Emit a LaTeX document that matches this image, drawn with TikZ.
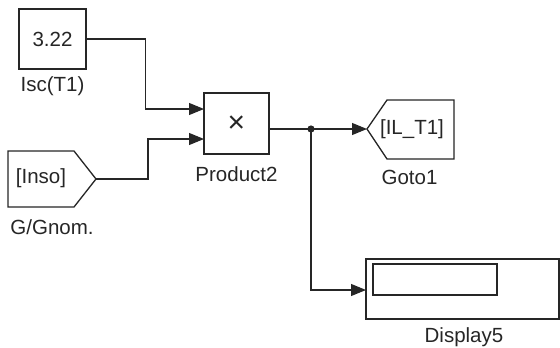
\documentclass[tikz,border=0pt]{standalone}
\usepackage{fontspec}
\setmainfont{Liberation Sans}
\usetikzlibrary{arrows.meta}
\tikzset{
  wire/.style     = {line width=1.1pt,black!85},
  sigarr/.style   = {wire,-{Triangle[length=15pt,width=12pt]}},
  blk/.style      = {draw,line width=1.3pt,black!85,fill=white,inner sep=0pt},
  blkname/.style  = {font=\fontsize{20.5}{22}\selectfont,text=black!85,inner sep=0pt},
  blktext/.style  = {font=\fontsize{20.5}{22}\selectfont,text=black!85,inner sep=0pt}
}

\begin{document}
\begin{tikzpicture}[x=1pt,y=-1pt]
  \useasboundingbox (0,0) rectangle (560,348);
  % constant and product
  \node[blk,blktext,minimum width=67pt,minimum height=60pt] (isc) at (52.5,39) {3.22};
  \node[blkname] (isclbl) at (52.5,86) {Isc(T1)};
  \node[blk,minimum width=65pt,minimum height=61pt] (prod) at (236.5,123.5) {};
  \node[font=\fontsize{30}{30}\selectfont,text=black!85,inner sep=0pt] (prodsym) at (236.5,124) {×};
  \node[blkname] (prodlbl) at (236.5,174) {Product2};
  \coordinate (prodin1) at (204,109);
  \coordinate (prodin2) at (204,139);
  \coordinate (prodout) at (269,129);
  % from block (tag pointing right)
  \draw[blk] (8,151) -- (74,151) -- (96,179) -- (74,207) -- (8,207) -- cycle;
  \node[blktext] (inso) at (41,178) {[Inso]};
  \node[blkname] (insolbl) at (52,227) {G/Gnom.};
  \coordinate (insoout) at (96,179);
  % goto block (tag pointing left)
  \draw[blk] (367,129) -- (387,100) -- (454,100) -- (454,159) -- (387,159) -- cycle;
  \node[blktext] (gototag) at (412,129) {[IL\_T1]};
  \node[blkname] (gotolbl) at (409.5,177) {Goto1};
  \coordinate (gotoin) at (367,129);
  % display
  \node[blk,minimum width=193pt,minimum height=60pt] (disp) at (462.5,289) {};
  \draw[blk] (373,264) rectangle (497,295);
  \node[blkname] (displbl) at (464,337) {Display5};
  \coordinate (dispin) at (366,290);
  \coordinate (jn) at (311,129);
  % signals
  \draw[sigarr] (isc.east) -- ++(59,0) |- (prodin1);
  \draw[sigarr] (insoout) -- ++(52,0) |- (prodin2);
  \draw[sigarr] (prodout) -- (gotoin);
  \draw[sigarr] (jn) |- (dispin);
  \fill[black!85] (jn) circle (3.6pt);
\end{tikzpicture}
\end{document}
